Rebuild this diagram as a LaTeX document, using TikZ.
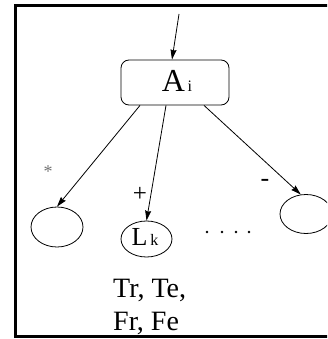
\documentclass[tikz,border=0pt]{standalone}
\usepackage{fontspec}
\setmainfont{Liberation Serif}
\usetikzlibrary{arrows.meta,calc,shapes.geometric}

\tikzset{
  frame/.style={line width=2.4pt},
  edge/.style={line width=0.8pt,-{Stealth[length=10pt,width=6pt,inset=1pt]}},
  leaf/.style={draw,ellipse,line width=0.8pt,inner sep=0pt},
  decision/.style={draw,rounded corners=8pt,line width=0.8pt,inner sep=0pt},
  sign/.style={inner sep=0pt},
}

\begin{document}
\begin{tikzpicture}[x=1pt,y=-1pt]
  \useasboundingbox (0,0) rectangle (327,339);
  \clip (0,0) rectangle (327,339);

  % surrounding frame, open to the right
  \draw[frame] (340,5.5) -- (15.3,5.5) -- (15.3,336.5) -- (340,336.5);

  % decision node
  \node[decision,minimum width=108pt,minimum height=45pt] (box) at (175,82.5) {};
  \node[sign,anchor=base] (lab) at (177,92)
    {\fontsize{32}{32}\selectfont A\fontsize{16}{16}\selectfont\,i};

  % children
  \node[leaf,minimum width=52pt,minimum height=40pt] (e1) at (57,227) {};
  \node[leaf,minimum width=51pt,minimum height=36pt] (lk) at (146.5,239) {};
  \node[sign,anchor=base] (lklab) at (145,245)
    {\fontsize{26}{26}\selectfont L\fontsize{16}{16}\selectfont\,k};
  \node[leaf,minimum width=52pt,minimum height=39pt] (e3) at (306,214) {};

  % incoming edge
  \coordinate (src) at (179,14);
  \draw[edge] (src) -- ($(box.north)+(-3,0)$);

  % outgoing edges
  \draw[edge] ($(box.south)+(-35,0)$) -- (e1.north);
  \draw[edge] ($(box.south)+(-9,0)$) -- (lk.north);
  \draw[edge] ($(box.south)+(29,0)$) -- (e3.105);

  % edge labels
  \node[sign,text=black!55] (star) at (48,172) {\fontsize{18}{18}\selectfont *};
  \node[sign] (plus) at (140,194) {\fontsize{25}{25}\selectfont +};
  \node[sign] (minus) at (265,183) {\fontsize{26}{26}\selectfont -};

  % ellipsis between the children
  \foreach \x in {207,222,236,249} \fill (\x,232) circle (1.4);

  % test outcomes under L_k
  \node[sign,anchor=base west] (t1) at (113,297) {\fontsize{28}{28}\selectfont Tr, Te,};
  \node[sign,anchor=base west] (t2) at (113,330) {\fontsize{28}{28}\selectfont Fr, Fe};
\end{tikzpicture}
\end{document}
